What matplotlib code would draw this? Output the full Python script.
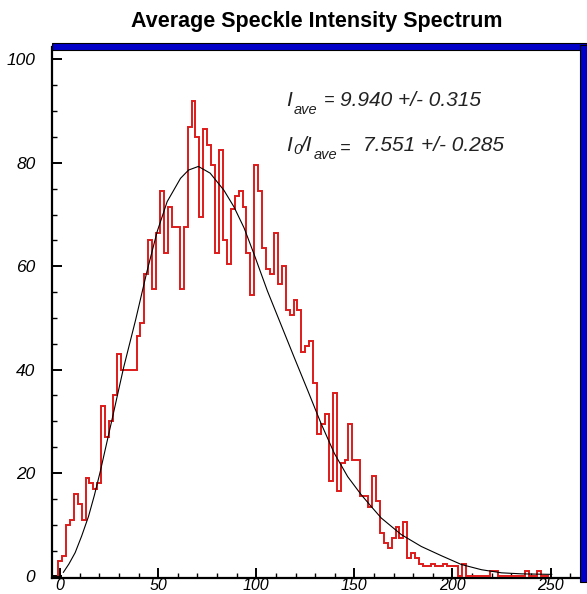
import matplotlib
matplotlib.use('Agg')
import matplotlib.pyplot as plt
from matplotlib.patches import Rectangle
from matplotlib.ticker import MultipleLocator

# ---------------- data ----------------
bin_centers = list(range(0, 250, 2))
counts = [
    3, 4, 10, 11, 16, 14, 11, 19, 18, 17,                 # 0-18
    18, 33, 27, 30, 35, 43, 40, 40, 40, 40,               # 20-38
    46.5, 49, 58.5, 65, 55.5, 66.5, 74.5, 62.5, 71.5, 67.5,   # 40-58
    67.5, 55.5, 67.5, 87, 92, 85, 69.5, 86.5, 83.5, 79.5,     # 60-78
    62.5, 82.5, 65, 60.5, 71, 73.5, 74.5, 71.5, 62.5, 54.5,   # 80-98
    79.5, 74.5, 63.5, 59.5, 58.5, 66.5, 56.5, 60, 51.5, 50.5, # 100-118
    53.5, 51.5, 43.5, 44.5, 45.5, 37.5, 27.5, 29.5, 31.5, 18.5,  # 120-138
    35.5, 16.5, 22, 22.5, 29.5, 22.5, 22.5, 15.5, 15.5, 13.5,    # 140-158
    19.5, 14.5, 8.5, 6.5, 5.5, 7.5, 9.5, 7.5, 10.5, 3.5,         # 160-178
    4.5, 3.5, 2.5, 2, 2, 2.5, 2, 2, 2.5, 2,                      # 180-198
    2, 2, 0, 2.5, 0, 0, 0, 0, 0, 0,                              # 200-218
    1, 1, 0, 0, 0, 0, 0, 0, 0, 1,                                # 220-238
    0, 0, 1, 0, 0,                                               # 240-248
]
fit_x = [1.7, 4.5, 7.7, 11.0, 14.5, 17.5, 20.5, 26.4, 32.4, 38.5, 44.3,
         49.5, 54.6, 61.4, 65.5, 70.5, 76.5, 83.5, 88.6, 93.8, 98.9,
         105.7, 112.5, 119.3, 126.2, 133, 139.8, 146.6, 153.5, 158.2,
         163.7, 173.9, 184.1, 194.4, 204.6, 214.8, 225, 235.3, 250.6]
fit_y = [0.8, 2.4, 4.6, 7.8, 11.6, 15.7, 20.3, 30.2, 40.4, 49.6, 59,
         66.7, 72.5, 77, 78.6, 79.3, 78.0, 74.7, 71.5, 67.4, 62.3,
         55.2, 48.8, 42.4, 36, 29.6, 23.8, 19.3, 15.8, 13.7,
         11.3, 8.1, 5.8, 4.0, 2.3, 1.3, 0.7, 0.5, 0.4]
x_ticks = [0, 50, 100, 150, 200, 250]
y_ticks = [0, 20, 40, 60, 80, 100]
title = "Average Speckle Intensity Spectrum"
ave_text = "9.940 +/- 0.315"
ratio_text = "7.551 +/- 0.285"

# ---------------- figure ----------------
W, H = 587, 594
plt.rcParams['font.family'] = ['Liberation Sans', 'DejaVu Sans']
fig = plt.figure(figsize=(W / 100, H / 100), dpi=100)


def fx(px):
    return px / W


def fy(py):
    return 1 - py / H


ax = fig.add_axes([fx(52), fy(578), (581 - 52) / W, (578 - 47) / H])
edges = [c - 1 for c in bin_centers] + [bin_centers[-1] + 1]
ax.stairs(counts, edges, color='#dd1a1a', lw=1.4, zorder=3)
ax.plot(fit_x, fit_y, color='black', lw=0.8, zorder=4)

ax.set_xlim(-4.1, 265.5)
ax.set_ylim(-0.3, 102.4)
ax.set_xticks(x_ticks)
ax.set_yticks(y_ticks)
ax.xaxis.set_minor_locator(MultipleLocator(10))
ax.yaxis.set_minor_locator(MultipleLocator(5))
ax.tick_params(which='major', direction='in', length=7, width=1.4,
               top=False, right=False)
ax.tick_params(which='minor', direction='in', length=3.5, width=1.0,
               top=False, right=False)
ax.tick_params(axis='x', pad=0, labelsize=11.5)
ax.tick_params(axis='y', pad=12, labelsize=12.5)
for lbl in ax.get_xticklabels() + ax.get_yticklabels():
    lbl.set_fontstyle('italic')

for s in ('top', 'right'):
    ax.spines[s].set_visible(False)
for s in ('left', 'bottom'):
    ax.spines[s].set_linewidth(1.6)
    ax.spines[s].set_color('black')

# blue 3D-like frame on top and right
fig.patches.append(Rectangle((fx(52), fy(50)), (587 - 52) / W, 7 / H,
                             transform=fig.transFigure, facecolor='#0000c8',
                             edgecolor='black', lw=0.8, zorder=5))
fig.patches.append(Rectangle((fx(580), fy(582)), 7 / W, (582 - 45) / H,
                             transform=fig.transFigure, facecolor='#0000c8',
                             edgecolor='black', lw=0.8, zorder=5))

# title
fig.text(fx(317), fy(21), title, ha='center', va='center',
         fontsize=15.5, fontweight='bold')

# annotations
tk = dict(fontstyle='italic', color='#222222', va='center', ha='left')
fig.text(fx(286), fy(100), "I", fontsize=15, **tk)
fig.text(fx(294), fy(110), "ave", fontsize=10.5, **tk)
fig.text(fx(324), fy(100), "=", fontsize=13, **tk)
fig.text(fx(340), fy(100), ave_text, fontsize=15, **tk)

fig.text(fx(286), fy(145), "I", fontsize=15, **tk)
fig.text(fx(293), fy(150), "0", fontsize=11, **tk)
fig.text(fx(300), fy(145), "/I", fontsize=15, **tk)
fig.text(fx(314), fy(155), "ave", fontsize=10.5, **tk)
fig.text(fx(340), fy(148), "=", fontsize=13, **tk)
fig.text(fx(363), fy(145), ratio_text, fontsize=15, **tk)

fig.savefig('out.png', dpi=100)
